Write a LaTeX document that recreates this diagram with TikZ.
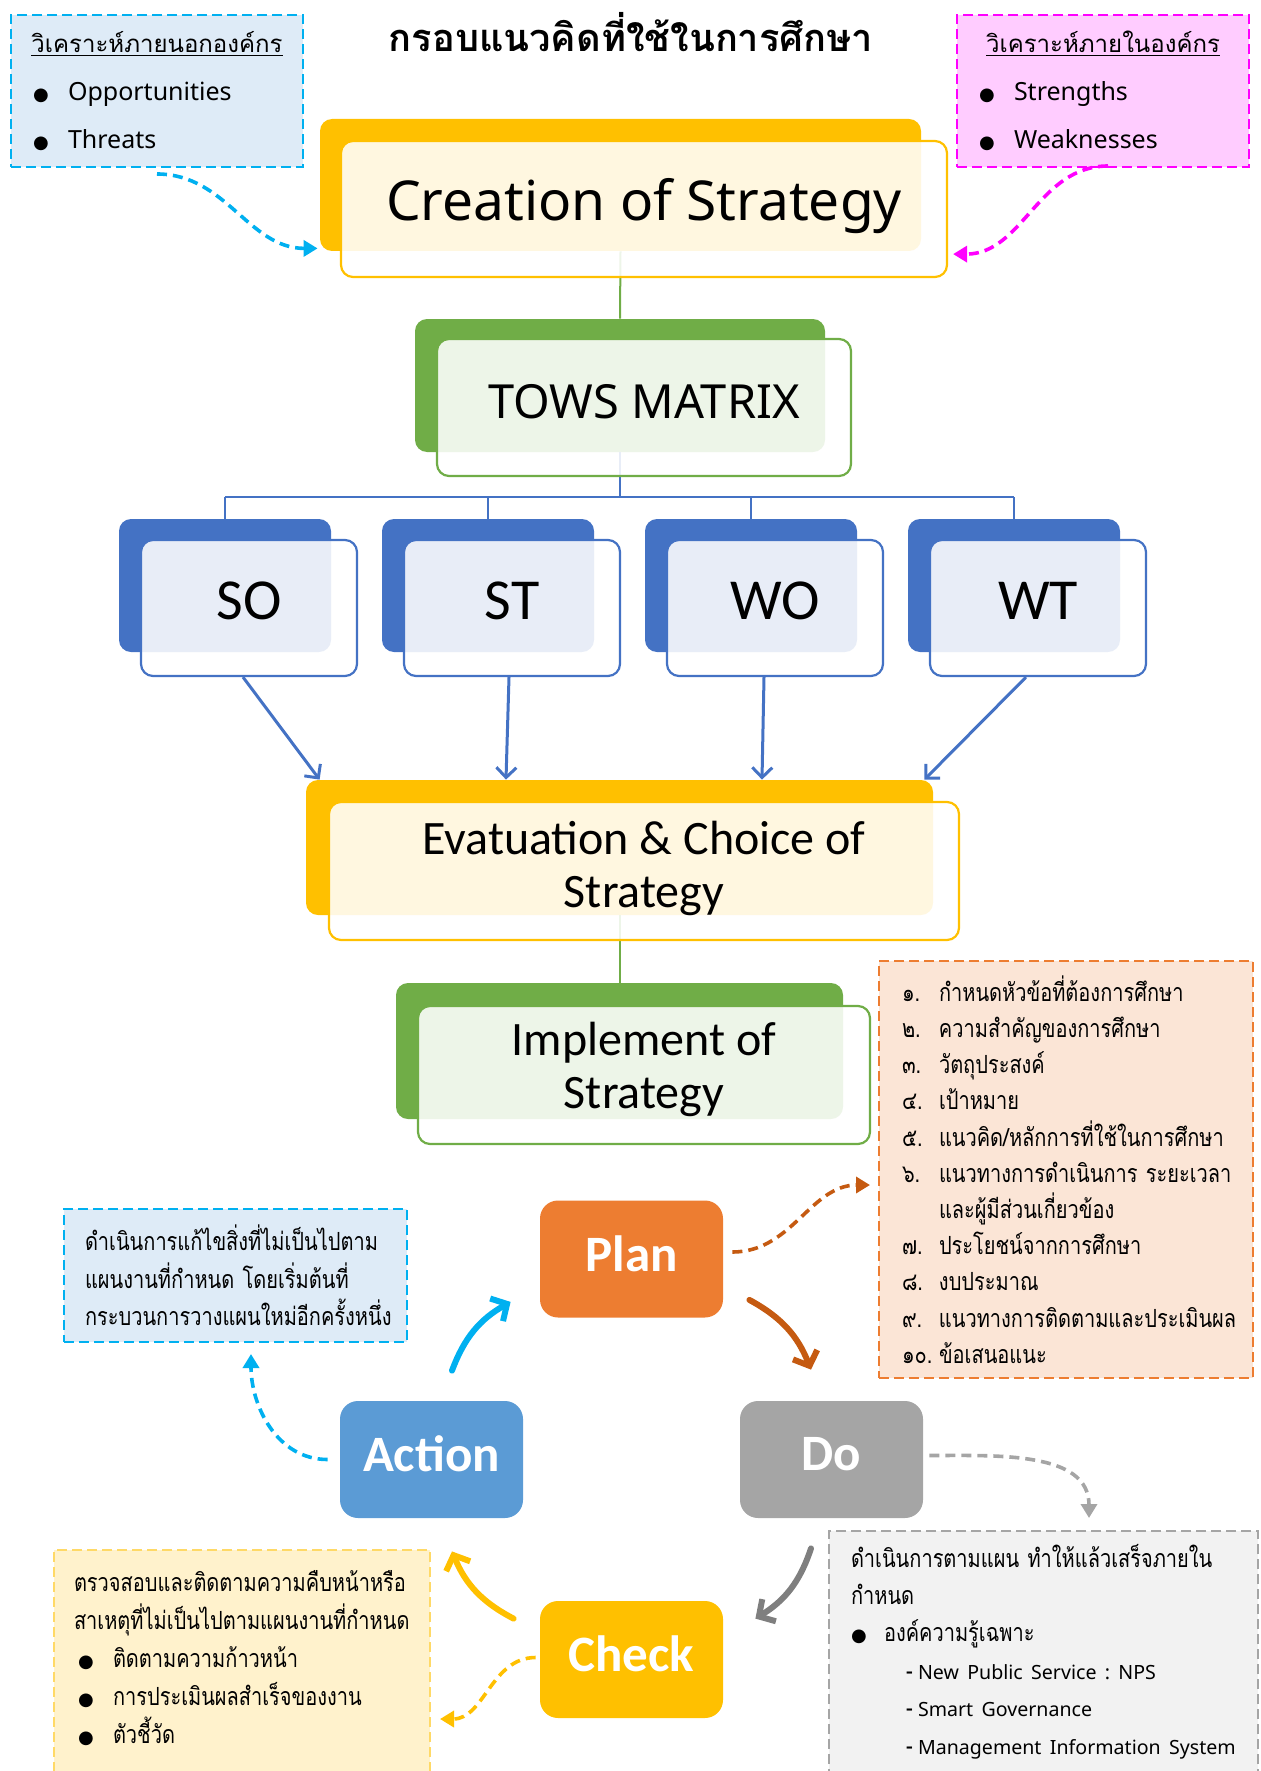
\documentclass[tikz,border=0pt]{standalone}
\usepackage{fontspec}
\setmainfont[Script=Thai]{Loma}
\newfontfamily\thaismall[Script=Thai,FakeStretch=0.8]{Loma}
\newfontfamily\latinfont{Noto Sans}
\newfontfamily\calibfont{Carlito}
\newfontfamily\symbfont{DejaVu Sans}
\usetikzlibrary{arrows.meta,positioning,calc}
\frenchspacing

\definecolor{YellowBox}{HTML}{FFC000}
\definecolor{GreenBox}{HTML}{70AD47}
\definecolor{BlueBox}{HTML}{4472C4}
\definecolor{PlanOrange}{HTML}{ED7D31}
\definecolor{PlanDark}{HTML}{C55A11}
\definecolor{DoGray}{HTML}{A5A5A5}
\definecolor{ArrowGray}{HTML}{7F7F7F}
\definecolor{ActBlue}{HTML}{5B9BD5}
\definecolor{CyanLine}{HTML}{00B0F0}
\definecolor{MagLine}{HTML}{FF00FF}
\definecolor{NoteBlue}{HTML}{DEEBF7}
\definecolor{NotePink}{HTML}{FFCCFF}
\definecolor{NoteOrange}{HTML}{FBE5D6}
\definecolor{NoteYellow}{HTML}{FFF2CC}
\definecolor{NoteYellowLine}{HTML}{FFD966}
\definecolor{NoteGray}{HTML}{F2F2F2}

\newcommand{\blt}{{\symbfont\fontsize{9}{9}\selectfont ●}}
\newcommand{\numitem}[2]{\makebox[18.5pt][l]{#1}#2}

\tikzset{
  backbox/.style={fill=#1, draw=none, rounded corners=6pt},
  frontbox/.style={fill=white, fill opacity=0.88, text opacity=1, draw=#1,
    line width=1.1pt, rounded corners=6pt},
  notebox/.style 2 args={draw=#1, fill=#2, line width=1pt,
    dash pattern=on 5pt off 2.5pt, align=left},
  pdcabox/.style={fill=#1, draw=none, rounded corners=9pt, text=white,
    font=\calibfont\bfseries\fontsize{25.5}{30}\selectfont, text depth=5.6pt,
    minimum width=91.5pt, minimum height=58.5pt},
  cyclearrow/.style={draw=#1, line width=3pt, line cap=round,
    -{Straight Barb[length=6pt,width=13pt]}},
  notearrow/.style={draw=#1, line width=1.8pt, dash pattern=on 5pt off 3pt,
    -{Triangle[length=7pt,width=8pt]}},
  blueline/.style={draw=BlueBox, line width=1pt},
  bluearrow/.style={draw=BlueBox, line width=1.5pt,
    -{Straight Barb[length=5pt,width=10pt]}},
  greenline/.style={draw=GreenBox, line width=1pt},
}

\begin{document}
\begin{tikzpicture}[x=0.5pt,y=-0.5pt]
\useasboundingbox (0,0) rectangle (1261,1771);
\clip (0,0) rectangle (1261,1771);

\node[font=\bfseries\fontsize{19}{23}\selectfont] (title) at (631,32) {กรอบแนวคิดที่ใช้ในการศึกษา};

% back layer of the strategy boxes
\node[backbox=YellowBox, minimum width=300.5pt, minimum height=66pt] (crea-back) at (620.5,185) {};
\node[backbox=GreenBox, minimum width=205pt, minimum height=66.5pt] (tows-back) at (620,385.5) {};
\foreach \n [count=\i from 0] in {so,st,wo,wt}
  \node[backbox=BlueBox, minimum width=106pt, minimum height=66.5pt] (\n-back) at ({225+263*\i},585.5) {};
\node[backbox=YellowBox, minimum width=313.5pt, minimum height=67.5pt] (eval-back) at (619.5,847.5) {};
\node[backbox=GreenBox, minimum width=223.5pt, minimum height=68pt] (impl-back) at (619.5,1051) {};

\draw[greenline] (crea-back.south) -- (tows-back.north);
\coordinate (fork) at (620,497);
\draw[blueline] (tows-back.south) -- (fork);
\draw[blueline] (fork -| so-back.north) -- (fork -| wt-back.north);
\foreach \n in {so,st,wo,wt}
  \draw[blueline] (fork -| \n-back.north) -- (\n-back.north);
\draw[greenline] (eval-back.south) -- (impl-back.north);

% front layer
\node[frontbox=YellowBox, minimum width=303pt, minimum height=68pt, text depth=10pt,
  font=\latinfont\fontsize{27.5}{32}\selectfont] (crea) at (644,209) {Creation of Strategy};
\node[frontbox=GreenBox, minimum width=207pt, minimum height=68.5pt, text depth=5.6pt,
  font=\latinfont\fontsize{23.5}{28}\selectfont] (tows) at (644,407.5) {TOWS MATRIX};
\foreach \n/\t [count=\i from 0] in {so/SO,st/ST,wo/WO,wt/WT}
  \node[frontbox=BlueBox, minimum width=108pt, minimum height=68pt, text depth=7pt,
    font=\calibfont\fontsize{29}{32}\selectfont] (\n) at ({249+263*\i},608) {\t};
\node[frontbox=YellowBox, minimum width=315pt, minimum height=69pt, align=center, text depth=7pt,
  font=\calibfont\fontsize{24}{26.5}\selectfont] (eval) at (644,871) {Evatuation \& Choice of\\Strategy};
\node[frontbox=GreenBox, minimum width=226pt, minimum height=69pt, align=center, text depth=9.3pt,
  font=\calibfont\fontsize{24}{26.5}\selectfont] (impl) at (644,1075) {Implement of\\Strategy};

\draw[bluearrow] ([xshift=-3pt]so.south) -- ([xshift=7pt]eval-back.north west);
\draw[bluearrow] ([xshift=-1.5pt]st.south) -- ([xshift=-56.75pt]eval-back.north);
\draw[bluearrow] ([xshift=-5.5pt]wo.south) -- ([xshift=71.25pt]eval-back.north);
\draw[bluearrow] ([xshift=-6pt]wt.south) -- ([xshift=-4.5pt]eval-back.north east);

% SWOT notes
\node[notebox={CyanLine}{NoteBlue}, minimum height=76pt, text width=124pt, inner xsep=11pt,
  font=\fontsize{12}{24}\selectfont] (outside) at (157,91)
  {\centerline{\underline{วิเคราะห์ภายนอกองค์กร}}
   \makebox[17.5pt][l]{\blt}{\latinfont\fontsize{12.5}{24}\selectfont Opportunities}\\
   \makebox[17.5pt][l]{\blt}{\latinfont\fontsize{12.5}{24}\selectfont Threats}};
\node[notebox={MagLine}{NotePink}, minimum height=76pt, text width=124pt, inner xsep=11pt,
  font=\fontsize{12}{24}\selectfont] (inside) at (1103,91)
  {\centerline{\underline{วิเคราะห์ภายในองค์กร}}
   \makebox[17.5pt][l]{\blt}{\latinfont\fontsize{12.5}{24}\selectfont Strengths}\\
   \makebox[17.5pt][l]{\blt}{\latinfont\fontsize{12.5}{24}\selectfont Weaknesses}};
\draw[notearrow=CyanLine] ([yshift=-3pt]outside.south) to[out=0,in=180] ([shift={(-2,-3)}]crea-back.south west);
\draw[notearrow=MagLine] ([shift={(5,-2)}]inside.south) to[out=180,in=0] ([shift={(5,-24)}]crea.south east);

% PDCA cycle
\node[pdcabox=PlanOrange] (plan) at (631.5,1259) {Plan};
\node[pdcabox=DoGray] (do) at (831.5,1459.5) {Do};
\node[pdcabox=ActBlue] (action) at (431.5,1459.5) {Action};
\node[pdcabox=YellowBox] (check) at (631.5,1659.5) {Check};

\draw[cyclearrow=CyanLine] ([shift={(20.5,-30)}]action.north) to[bend left=20] ([shift={(-29,-16)}]plan.south west);
\draw[cyclearrow=PlanDark] ([shift={(26,-18)}]plan.south east) to[bend left=20] ([shift={(-20.5,-31)}]do.north);
\draw[cyclearrow=ArrowGray] ([shift={(-20.5,30)}]do.south) to[bend left=20] ([shift={(32,18)}]check.north east);
\draw[cyclearrow=YellowBox] ([shift={(-26,18)}]check.north west) to[bend left=20] ([shift={(20.5,33)}]action.south);

% notes of the cycle
\node[notebox={PlanOrange}{NoteOrange}, minimum height=208.5pt, text width=164pt, inner xsep=11.5pt,
  font=\thaismall\fontsize{12.5}{18.1}\selectfont] (planitems) at (1066,1169.5)
  {\numitem{๑.}{กำหนดหัวข้อที่ต้องการศึกษา}\\
   \numitem{๒.}{ความสำคัญของการศึกษา}\\
   \numitem{๓.}{วัตถุประสงค์}\\
   \numitem{๔.}{เป้าหมาย}\\
   \numitem{๕.}{แนวคิด/หลักการที่ใช้ในการศึกษา}\\
   \numitem{๖.}{แนวทางการดำเนินการ~ระยะเวลา}\\
   \numitem{}{และผู้มีส่วนเกี่ยวข้อง}\\
   \numitem{๗.}{ประโยชน์จากการศึกษา}\\
   \numitem{๘.}{งบประมาณ}\\
   \numitem{๙.}{แนวทางการติดตามและประเมินผล}\\
   \numitem{๑๐.}{ข้อเสนอแนะ}};
\node[notebox={CyanLine}{NoteBlue}, minimum height=66.5pt, text width=150.5pt, inner xsep=10.5pt,
  font=\thaismall\fontsize{12.5}{18.75}\selectfont] (actionnote) at (235.5,1275.5)
  {ดำเนินการแก้ไขสิ่งที่ไม่เป็นไปตาม\\
   แผนงานที่กำหนด~โดยเริ่มต้นที่\\
   กระบวนการวางแผนใหม่อีกครั้งหนึ่ง};
\node[notebox={NoteYellowLine}{NoteYellow}, anchor=north west, text width=168pt, inner xsep=10pt,
  inner ysep=10pt, text depth=140pt, font=\thaismall\fontsize{12.5}{19}\selectfont] (checknote) at (53,1549)
  {ตรวจสอบและติดตามความคืบหน้าหรือ\\
   สาเหตุที่ไม่เป็นไปตามแผนงานที่กำหนด\\
   \hspace*{2pt}\makebox[17.5pt][l]{\blt}ติดตามความก้าวหน้า\\
   \hspace*{2pt}\makebox[17.5pt][l]{\blt}การประเมินผลสำเร็จของงาน\\
   \hspace*{2pt}\makebox[17.5pt][l]{\blt}ตัวชี้วัด};
\node[notebox={DoGray}{NoteGray}, anchor=north west, text width=192.5pt, inner xsep=11pt,
  inner ysep=6.5pt, text depth=140pt, font=\thaismall\fontsize{12.5}{18.7}\selectfont] (donote) at (828,1530)
  {ดำเนินการตามแผน~ทำให้แล้วเสร็จภายใน\\
   กำหนด\\
   \makebox[16.5pt][l]{\blt}องค์ความรู้เฉพาะ\\
   \hspace*{27.5pt}\makebox[6pt][l]{-}{\latinfont\fontsize{9.8}{18.7}\selectfont New Public Service : NPS}\\
   \hspace*{27.5pt}\makebox[6pt][l]{-}{\latinfont\fontsize{9.8}{18.7}\selectfont Smart Governance}\\
   \hspace*{27.5pt}\makebox[6pt][l]{-}{\latinfont\fontsize{9.8}{18.7}\selectfont Management Information System}};

\draw[notearrow=PlanDark] ([shift={(9,-7)}]plan.east) to[out=0,in=180] ([shift={(-8,15.5)}]planitems.west);
\draw[notearrow=DoGray] ([shift={(6,-4)}]do.east) to[out=0,in=90] ([shift={(45.5,-12)}]donote.north);
\draw[notearrow=YellowBox] ([shift={(-4,-2)}]check.west) to[out=180,in=0] ([shift={(9,170)}]checknote.north east);
\draw[notearrow=CyanLine] ([xshift=-6pt]action.west) to[out=180,in=-90] ([shift={(15.5,11)}]actionnote.south);
\end{tikzpicture}
\end{document}
